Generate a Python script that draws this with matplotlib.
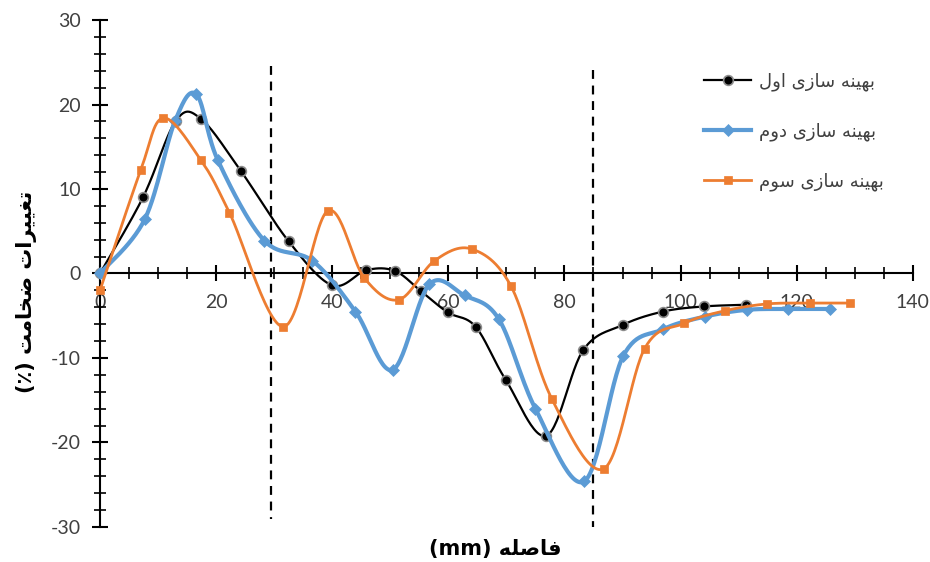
import numpy as np
import matplotlib
matplotlib.use("Agg")
import matplotlib.pyplot as plt
from matplotlib.lines import Line2D
from matplotlib.ticker import MultipleLocator

# ---------------- data ----------------
black_x = [0, 7.4, 13.1, 17.4, 24.3, 32.5, 40.0, 45.9, 50.8, 55.3, 59.9, 64.7, 69.9, 76.9, 83.2, 90.0, 97.0, 104.0, 111.2]
black_y = [0, 9.0, 18.1, 18.3, 12.1, 3.8, -1.4, 0.4, 0.3, -2.1, -4.6, -6.3, -12.6, -19.2, -9.1, -6.1, -4.5, -3.9, -3.7]

blue_x = [0, 7.7, 12.9, 16.6, 20.3, 28.3, 36.6, 44.0, 50.4, 56.7, 62.8, 68.7, 75.0, 83.4, 90.1, 97.0, 104.2, 111.4, 118.5, 125.8]
blue_y = [0, 6.4, 18.0, 21.2, 13.4, 3.9, 1.5, -4.5, -11.4, -1.3, -2.6, -5.4, -16.0, -24.6, -9.8, -6.6, -5.1, -4.3, -4.2, -4.2]

orange_x = [0, 7.0, 10.9, 17.4, 22.3, 31.6, 39.2, 45.5, 51.5, 57.6, 64.0, 70.8, 77.8, 86.8, 93.8, 100.6, 107.7, 114.9, 122.3, 129.2]
orange_y = [-2.0, 12.2, 18.4, 13.4, 7.2, -6.3, 7.4, -0.5, -3.1, 1.5, 2.9, -1.5, -14.8, -23.1, -8.9, -5.9, -4.4, -3.6, -3.5, -3.5]

series_names = ["بهینه سازی اول", "بهینه سازی دوم", "بهینه سازی سوم"]
x_title = "فاصله"
x_unit = "(mm)"
y_title = "تغییرات ضخامت"
y_unit = "(٪)"
dashed_x = [29.5, 85.0]
x_ticks = [0, 20, 40, 60, 80, 100, 120, 140]
y_ticks = [-30, -20, -10, 0, 10, 20, 30]

# ---------------- minimal Arabic/Persian shaping ----------------
FORMS = {  # iso, fin, ini, med
    'ا': ('\uFE8D', '\uFE8E', None, None),
    'ب': ('\uFE8F', '\uFE90', '\uFE91', '\uFE92'),
    'ت': ('\uFE95', '\uFE96', '\uFE97', '\uFE98'),
    'خ': ('\uFEA5', '\uFEA6', '\uFEA7', '\uFEA8'),
    'د': ('\uFEA9', '\uFEAA', None, None),
    'ر': ('\uFEAD', '\uFEAE', None, None),
    'ز': ('\uFEAF', '\uFEB0', None, None),
    'س': ('\uFEB1', '\uFEB2', '\uFEB3', '\uFEB4'),
    'ص': ('\uFEB9', '\uFEBA', '\uFEBB', '\uFEBC'),
    'ض': ('\uFEBD', '\uFEBE', '\uFEBF', '\uFEC0'),
    'غ': ('\uFECD', '\uFECE', '\uFECF', '\uFED0'),
    'ف': ('\uFED1', '\uFED2', '\uFED3', '\uFED4'),
    'ل': ('\uFEDD', '\uFEDE', '\uFEDF', '\uFEE0'),
    'م': ('\uFEE1', '\uFEE2', '\uFEE3', '\uFEE4'),
    'ن': ('\uFEE5', '\uFEE6', '\uFEE7', '\uFEE8'),
    'ه': ('\uFEE9', '\uFEEA', '\uFEEB', '\uFEEC'),
    'و': ('\uFEED', '\uFEEE', None, None),
    'ی': ('\uFBFC', '\uFBFD', '\uFBFE', '\uFBFF'),
}


def shape_word(w):
    out = []
    for i, ch in enumerate(w):
        if ch not in FORMS:
            out.append(ch)
            continue
        prev = w[i - 1] if i > 0 else None
        nxt = w[i + 1] if i + 1 < len(w) else None
        join_prev = prev in FORMS and FORMS[prev][2] is not None
        join_next = FORMS[ch][2] is not None and nxt in FORMS
        iso, fin, ini, med = FORMS[ch]
        if join_prev and join_next:
            out.append(med)
        elif join_prev:
            out.append(fin)
        elif join_next:
            out.append(ini)
        else:
            out.append(iso)
    return ''.join(out)


def rtl(text):
    words = text.split(' ')
    return ' '.join(shape_word(w)[::-1] for w in reversed(words))


AR_FONT = ['DejaVu Sans']
plt.rcParams['font.family'] = ['Lato', 'DejaVu Sans']
plt.rcParams['axes.unicode_minus'] = False

# ---------------- smoothing (Excel-like Catmull-Rom Bezier) ----------------
def smooth(xs, ys, n=30):
    p = np.column_stack([xs, ys]).astype(float)
    pts = [p[0]]
    m = len(p)
    t = np.linspace(0, 1, n)[1:, None]
    for i in range(m - 1):
        p0 = p[i - 1] if i > 0 else p[i]
        p1, p2 = p[i], p[i + 1]
        p3 = p[i + 2] if i + 2 < m else p[i + 1]
        c1 = p1 + (p2 - p0) / 6.0
        c2 = p2 - (p3 - p1) / 6.0
        seg = ((1 - t) ** 3) * p1 + 3 * ((1 - t) ** 2) * t * c1 + 3 * (1 - t) * t ** 2 * c2 + t ** 3 * p2
        pts.extend(seg)
    pts = np.array(pts)
    return pts[:, 0], pts[:, 1]


# ---------------- figure ----------------
fig = plt.figure(figsize=(9.3, 5.62), dpi=100)
ax = fig.add_axes([0.1075, 0.0623, 0.874, 0.9021])
ax.set_xlim(0, 140)
ax.set_ylim(-30, 30)

styles = [
    dict(color='black', lw=1.6, marker='o', ms=7, mfc='black', mec='#8c8c8c', mew=1.2),
    dict(color='#5B9BD5', lw=3.0, marker='D', ms=6, mfc='#5B9BD5', mec='#5B9BD5', mew=0.5),
    dict(color='#ED7D31', lw=2.0, marker='s', ms=6, mfc='#ED7D31', mec='#ED7D31', mew=0.5),
]
data = [(black_x, black_y), (blue_x, blue_y), (orange_x, orange_y)]

handles = []
for k, ((xs, ys), st) in enumerate(zip(data, styles)):
    cx, cy = smooth(xs, ys)
    ax.plot(cx, cy, color=st['color'], lw=st['lw'], zorder=3 + k, solid_capstyle='round')
    ax.plot(xs, ys, linestyle='none', marker=st['marker'], ms=st['ms'], mfc=st['mfc'],
            mec=st['mec'], mew=st['mew'], zorder=3 + k, clip_on=False)
    handles.append(Line2D([], [], color=st['color'], lw=st['lw'], marker=st['marker'],
                          ms=st['ms'], mfc=st['mfc'], mec=st['mec'], mew=st['mew']))

# dashed vertical lines
ax.plot([dashed_x[0], dashed_x[0]], [24.5, -29.1], color='black', lw=1.6, ls=(0, (4, 3)), zorder=2)
ax.plot([dashed_x[1], dashed_x[1]], [24.1, -30.0], color='black', lw=1.6, ls=(0, (4, 3)), zorder=2,
        clip_on=False)

# spines
for s in ['top', 'right']:
    ax.spines[s].set_visible(False)
ax.spines['left'].set_position(('data', 0))
ax.spines['bottom'].set_position(('data', 0))
ax.spines['left'].set_linewidth(1.5)
ax.spines['bottom'].set_linewidth(1.5)

ax.set_xticks(x_ticks)
ax.set_yticks(y_ticks)
ax.xaxis.set_minor_locator(MultipleLocator(5))
ax.yaxis.set_minor_locator(MultipleLocator(2))
ax.tick_params(axis='both', which='major', direction='inout', length=11, width=1.5,
               labelsize=14, labelcolor='#404040')
ax.tick_params(axis='both', which='minor', direction='inout', length=9, width=1.2)
ax.tick_params(axis='x', which='major', pad=9)
ax.tick_params(axis='y', which='major', pad=8)

# axis titles
fig.text(0.5325, 0.024, x_unit + ' ' + rtl(x_title), ha='center', va='center',
         fontsize=15, fontweight='bold', family=AR_FONT)
fig.text(0.028, 0.48, y_unit + ' ' + rtl(y_title), ha='center', va='center', rotation=90,
         fontsize=15, fontweight='bold', family=AR_FONT)

leg = fig.legend(handles, [rtl(n) for n in series_names], loc='upper left',
                 bbox_to_anchor=(0.74, 0.9), frameon=False,
                 labelspacing=1.75, handlelength=2.6, handletextpad=0.4,
                 prop={'family': AR_FONT, 'size': 13})
for t in leg.get_texts():
    t.set_color('#404040')

fig.savefig('out.png', dpi=100)
